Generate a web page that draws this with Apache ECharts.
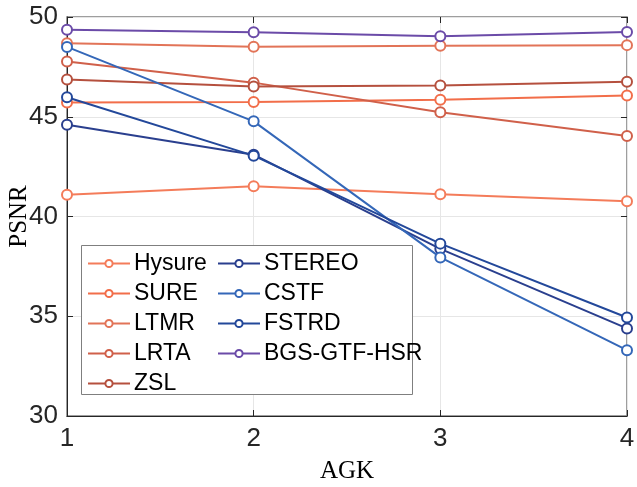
<!DOCTYPE html>
<html>
<head>
<meta charset="utf-8">
<script src="https://cdn.jsdelivr.net/npm/echarts@6/dist/echarts.min.js"></script>
<style>
html,body{margin:0;padding:0;background:#fff;}
#chart{width:637px;height:487px;}
</style>
</head>
<body>
<div id="chart"></div>
<script>
var xValues = [1, 2, 3, 4];
var yTicks = [30, 35, 40, 45, 50];
var seriesNames = ['Hysure', 'SURE', 'LTMR', 'LRTA', 'ZSL', 'STEREO', 'CSTF', 'FSTRD', 'BGS-GTF-HSR'];
var hysure = [41.09, 41.52, 41.11, 40.77];
var sure = [45.71, 45.74, 45.85, 46.06];
var ltmr = [48.68, 48.51, 48.56, 48.59];
var lrta = [47.77, 46.71, 45.23, 44.04];
var zsl = [46.87, 46.52, 46.57, 46.75];
var stereo = [44.6, 43.1, 38.38, 34.39];
var cstf = [48.5, 44.77, 37.95, 33.3];
var fstrd = [45.98, 43.05, 38.64, 34.94];
var bgs = [49.36, 49.23, 49.03, 49.25];
var colors = ['#f47c5a', '#f26e4a', '#e27458', '#d0604a', '#b5503e', '#2a3f8e', '#3467b8', '#23489a', '#6b4ba8'];

var allData = [hysure, sure, ltmr, lrta, zsl, stereo, cstf, fstrd, bgs];
var series = allData.map(function (vals, i) {
  return {
    name: seriesNames[i],
    type: 'line',
    data: vals.map(function (v, j) { return [xValues[j], v]; }),
    symbol: 'emptyCircle',
    symbolSize: 10,
    showSymbol: true,
    lineStyle: { width: 2, color: colors[i] },
    itemStyle: { color: colors[i], borderWidth: 2 },
    emphasis: { disabled: true },
    z: 2
  };
});

var font = 'Liberation Sans, Arial, Helvetica, sans-serif';
var serif = 'Liberation Serif, Times New Roman, serif';

var chart = echarts.init(document.getElementById('chart'), null, { renderer: 'canvas' });
chart.setOption({
  animation: false,
  backgroundColor: '#fff',
  color: colors,
  grid: { left: 67, right: 10, top: 17, bottom: 71, containLabel: false, outerBoundsMode: 'none', show: true, borderColor: '#7f7f7f', borderWidth: 1.5, backgroundColor: 'transparent' },
  xAxis: [{
    type: 'value', min: 1, max: 4, interval: 1,
    name: 'AGK', nameLocation: 'middle', nameGap: 43, nameMoveOverlap: false,
    nameTextStyle: { fontFamily: serif, fontSize: 25, color: '#000' },
    axisLine: { show: true, onZero: false, lineStyle: { color: '#262626', width: 1 } },
    axisTick: { show: true, inside: true, length: 6, lineStyle: { color: '#262626' } },
    axisLabel: { fontFamily: font, fontSize: 26, color: '#262626', margin: 10 },
    splitLine: { show: true, lineStyle: { color: '#e6e6e6', width: 1 } }
  }, {
    type: 'value', min: 1, max: 4, interval: 1, position: 'top',
    axisLine: { show: false },
    axisTick: { show: true, inside: true, length: 6, lineStyle: { color: '#262626' } },
    axisLabel: { show: false },
    splitLine: { show: false }
  }],
  yAxis: [{
    type: 'value', min: 30, max: 50, interval: 5,
    name: 'PSNR', nameLocation: 'middle', nameGap: 35, nameMoveOverlap: false,
    nameTextStyle: { fontFamily: serif, fontSize: 25, color: '#000' },
    axisLine: { show: true, onZero: false, lineStyle: { color: '#262626', width: 1 } },
    axisTick: { show: true, inside: true, length: 6, lineStyle: { color: '#262626' } },
    axisLabel: { fontFamily: font, fontSize: 26, color: '#262626', margin: 9 },
    splitLine: { show: true, lineStyle: { color: '#e6e6e6', width: 1 } }
  }, {
    type: 'value', min: 30, max: 50, interval: 5, position: 'right',
    axisLine: { show: false },
    axisTick: { show: true, inside: true, length: 6, lineStyle: { color: '#262626' } },
    axisLabel: { show: false },
    splitLine: { show: false }
  }],
  legend: [{
    data: seriesNames.slice(0, 5),
    orient: 'vertical', left: 87, top: 252, padding: 0,
    itemWidth: 42, itemHeight: 9, itemGap: 7,
    textStyle: { fontFamily: font, fontSize: 23, color: '#000', padding: [0, 0, 0, -1] },
    z: 12, selectedMode: false
  }, {
    data: seriesNames.slice(5),
    orient: 'vertical', left: 217, top: 252, padding: 0,
    itemWidth: 42, itemHeight: 9, itemGap: 7,
    textStyle: { fontFamily: font, fontSize: 23, color: '#000', padding: [0, 0, 0, -1] },
    z: 12, selectedMode: false
  }],
  graphic: [{
    type: 'rect', z: 10, silent: true,
    shape: { x: 81.5, y: 245.5, width: 331, height: 149 },
    style: { fill: '#fff', stroke: '#7f7f7f', lineWidth: 1 }
  }],
  series: series
});
</script>
</body>
</html>
